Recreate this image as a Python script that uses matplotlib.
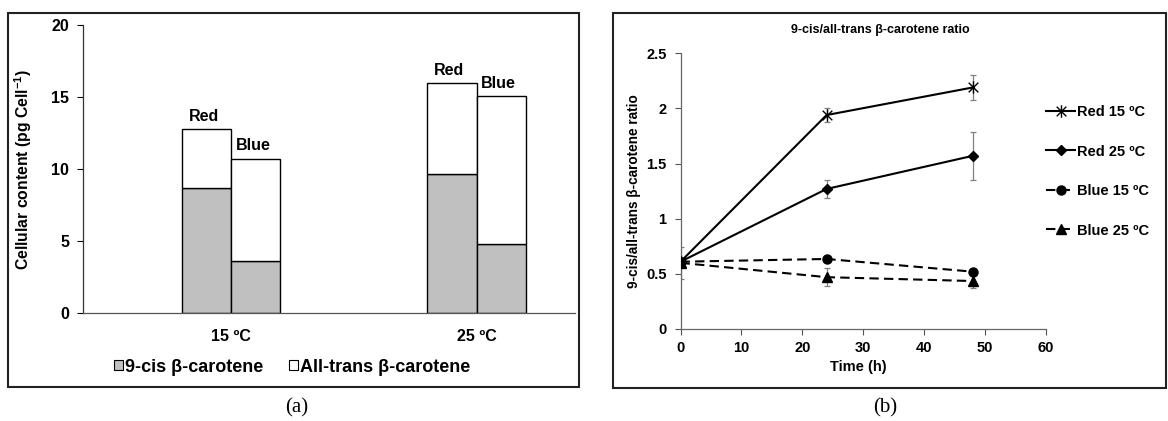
import matplotlib
matplotlib.use("Agg")
import matplotlib.pyplot as plt
from matplotlib.patches import Rectangle
from matplotlib.path import Path
import numpy as np

plt.rcParams['font.family'] = ['Liberation Sans', 'DejaVu Sans']
plt.rcParams['font.weight'] = 'bold'
plt.rcParams['axes.labelweight'] = 'bold'
plt.rcParams['mathtext.fontset'] = 'custom'
plt.rcParams['mathtext.rm'] = 'Liberation Sans:bold'
plt.rcParams['mathtext.default'] = 'rm'

# panel (a): cellular content, pg per cell
temps = ['15 ºC', '25 ºC']
cis_red = [8.72, 9.67]
trans_red = [4.06, 6.28]
cis_blue = [3.66, 4.79]
trans_blue = [7.06, 10.27]

# panel (b): 9-cis/all-trans ratio over time
time_h = [0, 24, 48]
red15 = [0.61, 1.94, 2.19]
red15_err = [0.02, 0.065, 0.11]
red25 = [0.61, 1.27, 1.57]
red25_err = [0.02, 0.08, 0.22]
blue15 = [0.61, 0.635, 0.52]
blue15_err = [0.02, 0.015, 0.02]
blue25 = [0.60, 0.47, 0.435]
blue25_err = [0.145, 0.08, 0.06]

W, H = 1168, 421
fig = plt.figure(figsize=(W / 100, H / 100), dpi=100)


def px_box(x0, y0, x1, y1):
    # pixel box (top-left origin) -> figure fraction rect
    return [x0 / W, 1 - y1 / H, (x1 - x0) / W, (y1 - y0) / H]


# outer frames
for x0, y0, x1, y1 in [(8, 13, 579, 387), (613, 13, 1166, 388)]:
    r = px_box(x0, y0, x1, y1)
    fig.add_artist(Rectangle((r[0], r[1]), r[2], r[3], transform=fig.transFigure,
                             fill=False, edgecolor='#222222', lw=1.5))

# ---------------- panel (a) ----------------
ax1 = fig.add_axes(px_box(83, 25, 575, 313.3))
x = np.arange(len(temps))
bw = 0.2
gray = '#c0c0c0'
ax1.bar(x - bw / 2, cis_red, bw, color=gray, edgecolor='black', lw=1.0)
ax1.bar(x - bw / 2, trans_red, bw, bottom=cis_red, color='white', edgecolor='black', lw=1.0)
ax1.bar(x + bw / 2, cis_blue, bw, color=gray, edgecolor='black', lw=1.0,
        label='9-cis β-carotene')
ax1.bar(x + bw / 2, trans_blue, bw, bottom=cis_blue, color='white', edgecolor='black',
        lw=1.0, label='All-trans β-carotene')
for i in range(len(temps)):
    ax1.annotate('Red', (x[i] - bw / 2, cis_red[i] + trans_red[i]), xytext=(-2, 6),
                 textcoords='offset points', ha='center', va='baseline', fontsize=11.5)
    ax1.annotate('Blue', (x[i] + bw / 2, cis_blue[i] + trans_blue[i]), xytext=(-2, 6),
                 textcoords='offset points', ha='center', va='baseline', fontsize=11.5)

ax1.set_xlim(-0.603, 1.401)
ax1.set_ylim(0, 20)
ax1.set_yticks([0, 5, 10, 15, 20])
ax1.set_xticks(x)
ax1.set_xticklabels(temps)
ax1.tick_params(axis='x', length=0, pad=11, labelsize=11.5)
ax1.tick_params(axis='y', length=4, width=0.8, direction='out', labelsize=11.5, pad=6)
for s in ['top', 'right']:
    ax1.spines[s].set_visible(False)
ax1.spines['left'].set_color('#333333')
ax1.spines['bottom'].set_color('#555555')
ax1.spines['left'].set_linewidth(0.9)
ax1.spines['bottom'].set_linewidth(0.9)
ax1.set_ylabel('Cellular content (pg Cell$^{-1}$)', fontsize=11.3, fontweight='bold')
ax1.yaxis.set_label_coords(-0.0996, 0.5)
leg1 = ax1.legend(loc='center', bbox_to_anchor=(292 / W, 1 - 367 / H),
                  bbox_transform=fig.transFigure, ncol=2, frameon=False,
                  handlelength=0.5, handleheight=0.5, handletextpad=0.12,
                  columnspacing=1.4, prop={'weight': 'bold', 'size': 13})
for h in leg1.legend_handles:
    h.set_linewidth(0.8)

# ---------------- panel (b) ----------------
ax2 = fig.add_axes(px_box(680.5, 53.3, 1045.7, 329))

star = Path([(-1, -1), (1, 1), (-1, 1), (1, -1), (0, -1.3), (0, 1.3)],
            [Path.MOVETO, Path.LINETO, Path.MOVETO, Path.LINETO, Path.MOVETO, Path.LINETO])
dash = (0, (4.5, 2.5))
series = [
    (red15, red15_err, 'Red 15 ºC', star, 9, '-'),
    (red25, red25_err, 'Red 25 ºC', 'D', 5, '-'),
    (blue15, blue15_err, 'Blue 15 ºC', 'o', 6.5, dash),
    (blue25, blue25_err, 'Blue 25 ºC', '^', 7, dash),
]
for vals, err, lab, mk, ms, ls in series:
    ax2.errorbar(time_h, vals, yerr=err, fmt='none', ecolor='#808080', elinewidth=0.9,
                 capsize=2.5, capthick=0.9, zorder=2)
    ax2.plot(time_h, vals, color='black', lw=1.5, linestyle=ls, marker=mk, markersize=ms,
             markerfacecolor='black', markeredgecolor='black', markeredgewidth=1.0,
             label=lab, zorder=3)

ax2.set_xlim(0, 60)
ax2.set_ylim(0, 2.5)
ax2.set_xticks(range(0, 61, 10))
ax2.set_yticks([0, 0.5, 1, 1.5, 2, 2.5])
ax2.set_yticklabels(['0', '0.5', '1', '1.5', '2', '2.5'])
ax2.tick_params(axis='both', length=4, width=0.8, direction='out', labelsize=10.5,
                color='#555555')
ax2.tick_params(axis='y', pad=6)
ax2.tick_params(axis='x', pad=5)
for s in ['top', 'right']:
    ax2.spines[s].set_visible(False)
for s in ['left', 'bottom']:
    ax2.spines[s].set_color('#666666')
    ax2.spines[s].set_linewidth(0.9)
ax2.set_xlabel('Time (h)', fontsize=10.5, fontweight='bold')
ax2.xaxis.set_label_coords((858 - 680.5) / 365.2, -(360 - 329) / 275.7)
ax2.set_ylabel('9-cis/all-trans β-carotene ratio', fontsize=9.8, fontweight='bold')
ax2.yaxis.set_label_coords(-0.108, 0.5)
fig.text(880 / W, 1 - 30 / H, '9-cis/all-trans β-carotene ratio', ha='center',
         va='center', fontsize=9)
ax2.legend(loc='upper left', bbox_to_anchor=(1046 / W, 1 - 105 / H),
           bbox_transform=fig.transFigure, frameon=False, handlelength=2.0,
           handletextpad=0.12, labelspacing=1.75, borderpad=0, borderaxespad=0,
           prop={'weight': 'bold', 'size': 10.5})

# panel captions
fig.text(297 / W, 1 - 408 / H, '(a)', ha='center', va='center', fontsize=15,
         family='Liberation Serif', fontweight='normal')
fig.text(885 / W, 1 - 408 / H, '(b)', ha='center', va='center', fontsize=15,
         family='Liberation Serif', fontweight='normal')

fig.savefig('out.png', dpi=100)
